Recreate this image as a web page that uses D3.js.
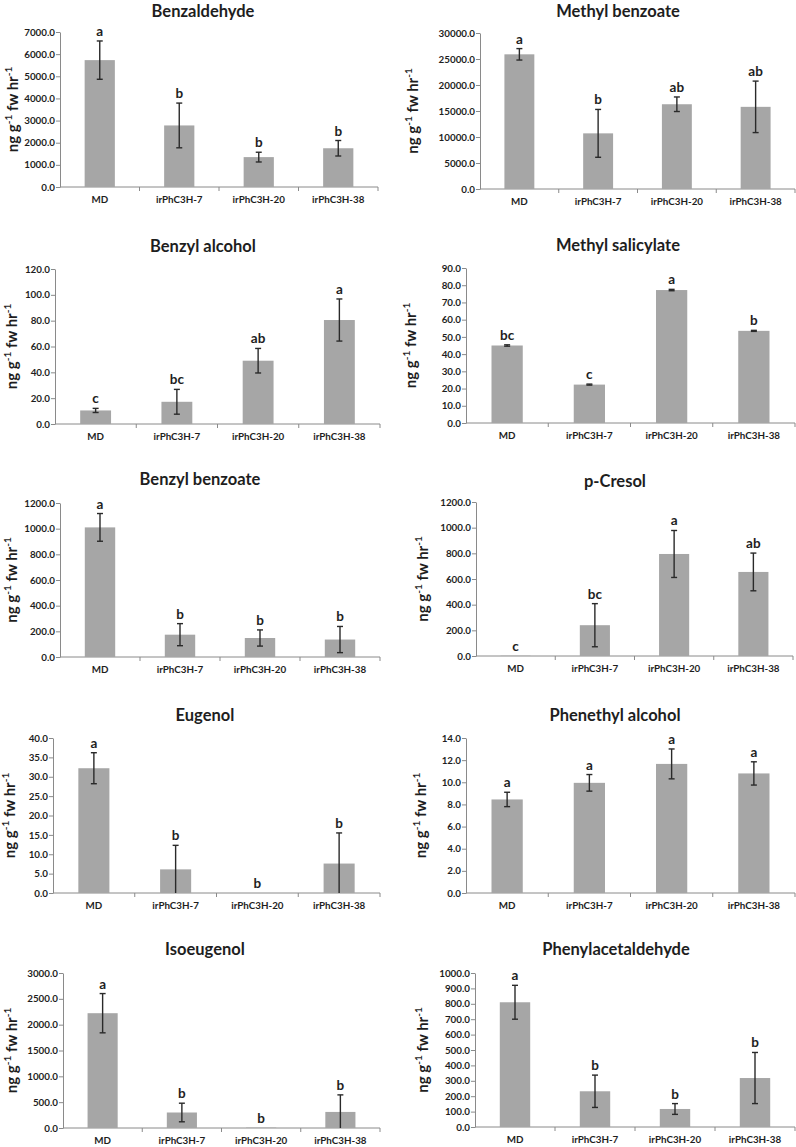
<!DOCTYPE html>
<html><head><meta charset="utf-8">
<script src="https://cdn.jsdelivr.net/npm/d3@7"></script>
<style>
html,body{margin:0;padding:0;background:#fff;}
svg{display:block;font-family:Lato,"Open Sans",sans-serif;}
</style></head>
<body>
<svg id="chart" width="796" height="1147"></svg>
<script>
const categories = ["MD", "irPhC3H-7", "irPhC3H-20", "irPhC3H-38"];
const titles = ["Benzaldehyde", "Methyl benzoate", "Benzyl alcohol", "Methyl salicylate", "Benzyl benzoate",
  "p-Cresol", "Eugenol", "Phenethyl alcohol", "Isoeugenol", "Phenylacetaldehyde"];

const benzaldehydeMean = [5730, 2780, 1350, 1750];
const benzaldehydeErr = [865, 1010, 220, 350];
const benzaldehydeLetters = ["a", "b", "b", "b"];

const methylBenzoateMean = [25900, 10700, 16300, 15800];
const methylBenzoateErr = [1100, 4600, 1400, 4950];
const methylBenzoateLetters = ["a", "b", "ab", "ab"];

const benzylAlcoholMean = [10.5, 17.2, 49.0, 80.5];
const benzylAlcoholErr = [1.6, 9.6, 9.5, 16.3];
const benzylAlcoholLetters = ["c", "bc", "ab", "a"];

const methylSalicylateMean = [45.0, 22.3, 77.2, 53.5];
const methylSalicylateErr = [0.4, 0.3, 0.4, 0.3];
const methylSalicylateLetters = ["bc", "c", "a", "b"];

const benzylBenzoateMean = [1010, 174, 148, 136];
const benzylBenzoateErr = [108, 86, 63, 102];
const benzylBenzoateLetters = ["a", "b", "b", "b"];

const pCresolMean = [2, 240, 795, 655];
const pCresolErr = [0, 168, 183, 147];
const pCresolLetters = ["c", "bc", "a", "ab"];

const eugenolMean = [32.2, 6.1, 0, 7.6];
const eugenolErr = [4.0, 6.2, 0, 7.9];
const eugenolLetters = ["a", "b", "b", "b"];

const phenethylAlcoholMean = [8.45, 9.95, 11.66, 10.8];
const phenethylAlcoholErr = [0.65, 0.75, 1.35, 1.05];
const phenethylAlcoholLetters = ["a", "a", "a", "a"];

const isoeugenolMean = [2222, 300, 8, 311];
const isoeugenolErr = [380, 180, 0, 330];
const isoeugenolLetters = ["a", "b", "b", "b"];

const phenylacetaldehydeMean = [810, 232, 117, 318];
const phenylacetaldehydeErr = [110, 105, 35, 166];
const phenylacetaldehydeLetters = ["a", "b", "b", "b"];

const axisMax = [7000, 30000, 120, 90, 1200, 1200, 40, 14, 3000, 1000];
const axisStep = [1000, 5000, 20, 10, 200, 200, 5, 2, 500, 100];

const means = [benzaldehydeMean, methylBenzoateMean, benzylAlcoholMean, methylSalicylateMean, benzylBenzoateMean,
  pCresolMean, eugenolMean, phenethylAlcoholMean, isoeugenolMean, phenylacetaldehydeMean];
const errs = [benzaldehydeErr, methylBenzoateErr, benzylAlcoholErr, methylSalicylateErr, benzylBenzoateErr,
  pCresolErr, eugenolErr, phenethylAlcoholErr, isoeugenolErr, phenylacetaldehydeErr];
const letters = [benzaldehydeLetters, methylBenzoateLetters, benzylAlcoholLetters, methylSalicylateLetters, benzylBenzoateLetters,
  pCresolLetters, eugenolLetters, phenethylAlcoholLetters, isoeugenolLetters, phenylacetaldehydeLetters];

// layout: plot left, right, top, bottom, title x, title baseline, y-label x
const layout = [
  {l: 60, r: 378, t: 32, b: 187, tx: 203, ty: 17, lx: 13},
  {l: 480, r: 795, t: 33, b: 189, tx: 618, ty: 17, lx: 413},
  {l: 55, r: 380, t: 269, b: 424, tx: 203, ty: 252, lx: 12},
  {l: 466, r: 795, t: 268, b: 423, tx: 618, ty: 251, lx: 411},
  {l: 60, r: 380, t: 503, b: 657, tx: 200, ty: 485, lx: 12},
  {l: 476, r: 793, t: 502, b: 656, tx: 615, ty: 487, lx: 423},
  {l: 53, r: 380, t: 738, b: 893, tx: 205, ty: 721, lx: 10},
  {l: 466, r: 795, t: 738, b: 893, tx: 615, ty: 721, lx: 421},
  {l: 63, r: 380, t: 973, b: 1128, tx: 205, ty: 955, lx: 12},
  {l: 475, r: 795, t: 973, b: 1127, tx: 616, ty: 955, lx: 423}
];

const svg = d3.select("#chart");
const textColor = "#1e1e1e";
const axisColor = "#8a8a8a";
const barColor = "#a6a6a6";

titles.forEach((title, i) => {
  const L = layout[i];
  const g = svg.append("g");
  const x = d3.scaleBand().domain(categories).range([L.l, L.r]).paddingInner(0.62).paddingOuter(0.31);
  const xb = d3.scaleBand().domain(categories).range([L.l, L.r]);
  const y = d3.scaleLinear().domain([0, axisMax[i]]).range([L.b, L.t]);

  // title
  g.append("text").attr("x", L.tx).attr("y", L.ty).attr("text-anchor", "middle")
    .attr("font-size", 16.5).attr("font-weight", 700).attr("fill", textColor).text(title);

  // y-axis label
  const yl = g.append("text").attr("transform", `translate(${L.lx + 5},${(L.t + L.b) / 2}) rotate(-90)`)
    .attr("text-anchor", "middle").attr("font-size", 15).attr("font-weight", 700).attr("fill", textColor);
  yl.append("tspan").text("ng g");
  yl.append("tspan").attr("dy", -6).attr("font-size", 10).text("-1");
  yl.append("tspan").attr("dy", 6).text(" fw hr");
  yl.append("tspan").attr("dy", -6).attr("font-size", 10).text("-1");

  // y axis
  const ticks = d3.range(0, axisMax[i] + axisStep[i] / 2, axisStep[i]);
  const ya = g.append("g").attr("transform", `translate(${L.l},0)`)
    .call(d3.axisLeft(y).tickValues(ticks).tickFormat(d3.format(".1f")).tickSize(4).tickSizeOuter(0));
  ya.select(".domain").attr("stroke", axisColor).attr("stroke-width", 1);
  ya.selectAll(".tick line").attr("stroke", axisColor);
  ya.selectAll(".tick text").attr("font-size", 9.8).attr("font-weight", 700).attr("fill", textColor)
    .attr("font-family", "Lato, sans-serif").attr("x", -5);

  // x axis
  const xa = g.append("g").attr("transform", `translate(0,${L.b})`)
    .call(d3.axisBottom(x).tickSize(0).tickSizeOuter(0));
  xa.select(".domain").attr("stroke", axisColor).attr("d", `M${L.l},0H${L.r}`);
  xa.selectAll(".tick text").attr("font-size", 9.8).attr("font-weight", 700).attr("fill", textColor)
    .attr("font-family", "Lato, sans-serif").attr("dy", "1.35em");
  // category separator ticks
  g.append("g").selectAll("line").data(categories.slice(1).concat(["__end"]))
    .join("line")
    .attr("x1", d => d === "__end" ? L.r : xb(d)).attr("x2", d => d === "__end" ? L.r : xb(d))
    .attr("y1", L.b).attr("y2", L.b + 4).attr("stroke", axisColor);

  // bars
  const data = categories.map((c, j) => ({c, v: means[i][j], e: errs[i][j], s: letters[i][j]}));
  g.append("g").selectAll("rect").data(data).join("rect")
    .attr("x", d => x(d.c)).attr("width", x.bandwidth())
    .attr("y", d => y(d.v)).attr("height", d => y(0) - y(d.v))
    .attr("fill", barColor);

  // error bars
  const eg = g.append("g").attr("stroke", "#2a2a2a").attr("stroke-width", 1.4);
  data.filter(d => d.e > 0).forEach(d => {
    const cx = x(d.c) + x.bandwidth() / 2;
    const lo = Math.max(0, d.v - d.e), hi = d.v + d.e;
    eg.append("line").attr("x1", cx).attr("x2", cx).attr("y1", y(lo)).attr("y2", y(hi));
    eg.append("line").attr("x1", cx - 3).attr("x2", cx + 3).attr("y1", y(hi)).attr("y2", y(hi));
    if (lo > 0) eg.append("line").attr("x1", cx - 3).attr("x2", cx + 3).attr("y1", y(lo)).attr("y2", y(lo));
  });

  // significance letters
  g.append("g").selectAll("text").data(data).join("text")
    .attr("x", d => x(d.c) + x.bandwidth() / 2)
    .attr("y", d => y(d.v + d.e) - 5)
    .attr("text-anchor", "middle").attr("font-size", 13.5).attr("font-weight", 700).attr("fill", textColor)
    .text(d => d.s);
});
</script>
</body></html>
